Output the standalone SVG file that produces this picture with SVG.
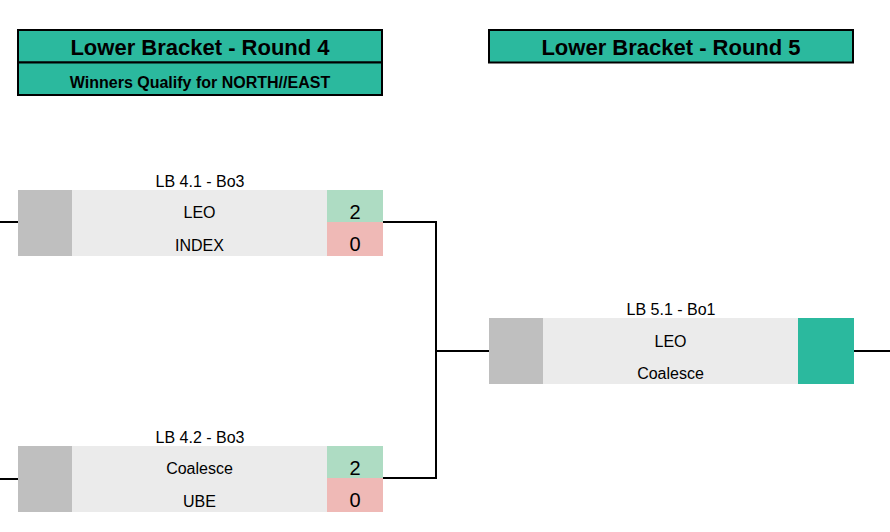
<svg xmlns="http://www.w3.org/2000/svg" width="890" height="532" viewBox="0 0 890 532">
<style>
.hdr{fill:#2bb99e;stroke:#000;stroke-width:2}
.t{font-family:"Liberation Sans",Arial,sans-serif;fill:#000;text-anchor:middle}
.title{font-size:22px;font-weight:bold}
.sub{font-size:16px;font-weight:bold}
.lbl{font-size:16px}
.nm{font-size:16px}
.sc{font-size:20px}
.seed{fill:#bfbfbf}
.body{fill:#ebebeb}
.win{fill:#aedcc3}
.lose{fill:#efb9b6}
.teal{fill:#2bb99e}
.ln{stroke:#000;stroke-width:2;fill:none}
</style>
<rect width="890" height="532" fill="#fff"/>
<g id="header-r4">
<rect class="hdr" x="18" y="30" width="364" height="32.5"/>
<rect class="hdr" x="18" y="62.5" width="364" height="32.5"/>
<text class="t title" x="200" y="55">Lower Bracket - Round 4</text>
<text class="t sub" x="200" y="88">Winners Qualify for NORTH//EAST</text>
</g>
<g id="header-r5">
<rect class="hdr" x="489" y="30" width="364" height="32.5"/>
<text class="t title" x="671" y="55">Lower Bracket - Round 5</text>
</g>
<g id="connectors">
<path class="ln" d="M0 222H18"/>
<path class="ln" d="M0 479H18"/>
<path class="ln" d="M382 222H436V478H382"/>
<path class="ln" d="M436 351H489"/>
<path class="ln" d="M854 351H890"/>
</g>
<g id="lb41">
<text class="t lbl" x="200" y="187">LB 4.1 - Bo3</text>
<rect class="seed" x="18" y="190" width="54" height="66"/>
<rect class="body" x="72" y="190" width="255" height="66"/>
<rect class="win" x="327" y="190" width="56" height="32"/>
<rect class="lose" x="327" y="222" width="56" height="34"/>
<text class="t nm" x="199.5" y="218">LEO</text>
<text class="t nm" x="199.5" y="251">INDEX</text>
<text class="t sc" x="355" y="219.3">2</text>
<text class="t sc" x="355" y="251.3">0</text>
</g>
<g id="lb42">
<text class="t lbl" x="200" y="443">LB 4.2 - Bo3</text>
<rect class="seed" x="18" y="446" width="54" height="66"/>
<rect class="body" x="72" y="446" width="255" height="66"/>
<rect class="win" x="327" y="446" width="56" height="32"/>
<rect class="lose" x="327" y="478" width="56" height="34"/>
<text class="t nm" x="199.5" y="474">Coalesce</text>
<text class="t nm" x="199.5" y="507">UBE</text>
<text class="t sc" x="355" y="475.3">2</text>
<text class="t sc" x="355" y="507.3">0</text>
</g>
<g id="lb51">
<text class="t lbl" x="671" y="315">LB 5.1 - Bo1</text>
<rect class="seed" x="489" y="318" width="54" height="66"/>
<rect class="body" x="543" y="318" width="255" height="66"/>
<rect class="teal" x="798" y="318" width="56" height="66"/>
<text class="t nm" x="670.5" y="346.5">LEO</text>
<text class="t nm" x="670.5" y="378.5">Coalesce</text>
</g>
</svg>
